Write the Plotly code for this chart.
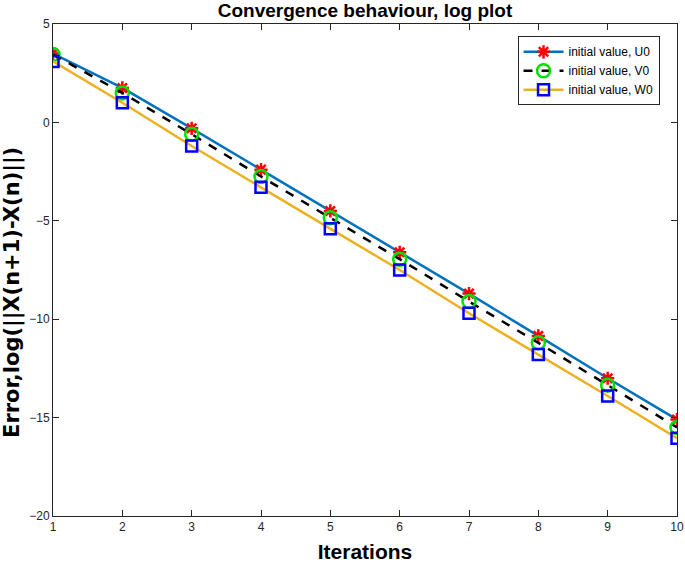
import plotly.graph_objects as go

iterations = [1, 2, 3, 4, 5, 6, 7, 8, 9, 10]
err_u0 = [3.5, 1.75, -0.3, -2.4, -4.5, -6.6, -8.7, -10.85, -13.0, -15.1]
err_v0 = [3.45, 1.5, -0.6, -2.75, -4.85, -6.95, -9.1, -11.2, -13.35, -15.5]
err_w0 = [3.1, 1.0, -1.2, -3.3, -5.4, -7.5, -9.7, -11.8, -13.9, -16.05]

_FONT = "'Liberation Sans', Arial, Helvetica, sans-serif"
_WIDE = "'DejaVu Sans', 'Liberation Sans', sans-serif"
_AXIS = "#262626"

fig = go.Figure()

fig.add_trace(go.Scatter(
    x=iterations, y=err_u0, name="initial value, U0",
    mode="lines+markers",
    line=dict(color="#0072BD", width=2.5),
    marker=dict(symbol="asterisk-open", size=11, color="red",
                line=dict(color="red", width=2.5)),
))
fig.add_trace(go.Scatter(
    x=iterations, y=err_v0, name="initial value, V0",
    mode="lines+markers",
    line=dict(color="black", width=2.5, dash="dash"),
    marker=dict(symbol="circle-open", size=13, color="#00E000",
                line=dict(color="#00E000", width=2.5)),
))
fig.add_trace(go.Scatter(
    x=iterations, y=err_w0, name="initial value, W0",
    mode="lines+markers",
    line=dict(color="#EDB120", width=2.5),
    marker=dict(symbol="square-open", size=11, color="#0000FF",
                line=dict(color="#0000FF", width=2.5)),
))

# y label as an annotation: the original sits a little below the axis centre
fig.add_annotation(
    text="<b>Error,log(||X(n+1)-X(n)||)</b>",
    xref="paper", yref="paper", x=-0.066, y=0.455,
    xanchor="center", yanchor="middle", textangle=-90, showarrow=False,
    font=dict(family=_WIDE, size=21, color="black"),
)

fig.update_layout(
    width=685, height=563,
    paper_bgcolor="white", plot_bgcolor="white",
    font=dict(family=_FONT, color=_AXIS, size=12),
    margin=dict(l=53, r=8, t=24, b=47, autoexpand=False),
    title=dict(
        text="<b>Convergence behaviour, log plot</b>",
        x=0.5, xanchor="center", xref="paper",
        y=1 - 4 / 563, yanchor="top",
        font=dict(family=_FONT, size=19, color="black"),
    ),
    showlegend=True,
    legend=dict(
        x=0.972, xanchor="right", y=0.975, yanchor="top",
        bgcolor="white", bordercolor=_AXIS, borderwidth=1,
        font=dict(family=_FONT, size=12, color="black"),
        traceorder="normal", itemwidth=40,
        tracegroupgap=0,
    ),
    xaxis=dict(
        range=[1, 10], tickmode="array", tickvals=iterations,
        ticks="inside", ticklen=6, tickcolor=_AXIS,
        showline=True, linecolor=_AXIS, linewidth=1, mirror="ticks",
        showgrid=False, zeroline=False, automargin=False,
        title=dict(text="<b>Iterations</b>", standoff=15,
                   font=dict(family=_FONT, size=21, color="black")),
    ),
    yaxis=dict(
        range=[-20, 5], tickmode="array", tickvals=[5, 0, -5, -10, -15, -20],
        ticks="inside", ticklen=6, tickcolor=_AXIS,
        showline=True, linecolor=_AXIS, linewidth=1, mirror="ticks",
        showgrid=False, zeroline=False, automargin=False,
    ),
)

# the default page has an 8px body margin; drop it so the figure fills the window
fig.write_html("out.html", config={"displayModeBar": False},
               post_script="document.body.style.margin='0';")
